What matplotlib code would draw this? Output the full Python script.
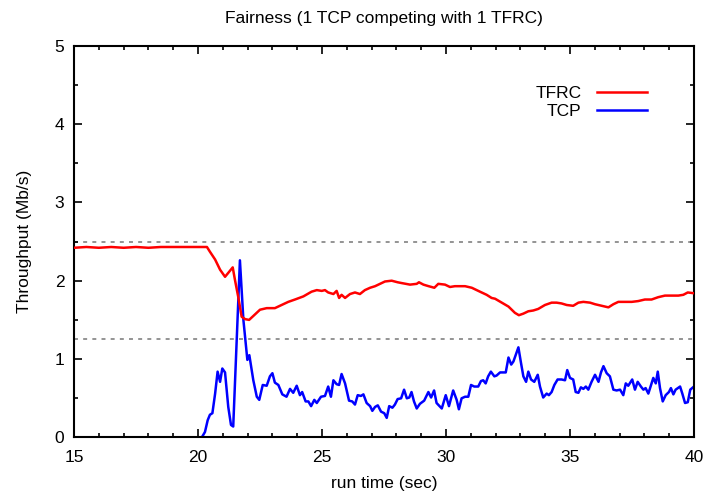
import matplotlib
matplotlib.use("Agg")
import matplotlib.pyplot as plt
from matplotlib.ticker import MultipleLocator

plt.rcParams['font.family'] = ['Liberation Sans', 'DejaVu Sans']

# TFRC throughput (Mb/s) over run time (sec)
tfrc_time = [15.0, 15.5, 16.0, 16.5, 17.0, 17.5, 18.0, 18.5, 19.0, 19.5, 20.0, 20.36,
             20.48, 20.69, 20.89, 21.09, 21.22, 21.40, 21.49, 21.63, 21.76, 21.90, 22.06,
             22.23, 22.50, 22.77, 23.10, 23.37, 23.64, 23.91, 24.25, 24.58, 24.79, 24.99,
             25.12, 25.25, 25.46, 25.59, 25.69, 25.79, 25.93, 26.13, 26.33, 26.53, 26.73,
             26.94, 27.14, 27.34, 27.54, 27.81, 28.05, 28.21, 28.55, 28.82, 28.91, 29.09,
             29.30, 29.53, 29.69, 29.96, 30.16, 30.36, 30.77, 31.04, 31.37, 31.64, 31.84,
             31.98, 32.25, 32.52, 32.78, 32.94, 33.12, 33.32, 33.52, 33.72, 33.99, 34.26,
             34.46, 34.66, 34.87, 35.13, 35.34, 35.54, 35.81, 36.01, 36.28, 36.55, 36.75,
             36.95, 37.22, 37.49, 37.75, 38.02, 38.29, 38.56, 38.83, 39.10, 39.37, 39.57,
             39.75, 40.00]
tfrc_rate = [2.42, 2.43, 2.42, 2.43, 2.42, 2.43, 2.42, 2.43, 2.43, 2.43, 2.43, 2.43,
             2.37, 2.27, 2.14, 2.05, 2.10, 2.17, 2.01, 1.78, 1.54, 1.51, 1.50,
             1.55, 1.63, 1.65, 1.65, 1.69, 1.73, 1.76, 1.80, 1.86, 1.88, 1.87,
             1.88, 1.85, 1.83, 1.87, 1.78, 1.82, 1.78, 1.83, 1.85, 1.83, 1.88,
             1.91, 1.93, 1.96, 1.99, 2.00, 1.98, 1.97, 1.95, 1.96, 1.98, 1.95,
             1.93, 1.91, 1.96, 1.95, 1.92, 1.93, 1.93, 1.91, 1.86, 1.82, 1.78,
             1.77, 1.72, 1.67, 1.59, 1.56, 1.58, 1.61, 1.62, 1.64, 1.69, 1.72,
             1.72, 1.71, 1.69, 1.68, 1.72, 1.73, 1.72, 1.70, 1.68, 1.66, 1.70,
             1.73, 1.73, 1.73, 1.74, 1.76, 1.76, 1.79, 1.81, 1.81, 1.81, 1.82,
             1.85, 1.84]

# TCP throughput (Mb/s) over run time (sec)
tcp_time = [15.0, 20.15, 20.28, 20.39, 20.48, 20.58, 20.69, 20.79, 20.89, 20.98, 21.09,
            21.22, 21.33, 21.42, 21.56, 21.69, 21.83, 21.99, 22.07, 22.23, 22.37, 22.47,
            22.61, 22.77, 22.90, 23.00, 23.10, 23.24, 23.40, 23.57, 23.71, 23.84, 23.98,
            24.11, 24.20, 24.34, 24.45, 24.56, 24.69, 24.79, 24.96, 25.12, 25.25, 25.36,
            25.46, 25.59, 25.69, 25.79, 25.93, 26.09, 26.22, 26.33, 26.44, 26.57, 26.67,
            26.80, 26.94, 27.03, 27.14, 27.25, 27.38, 27.51, 27.61, 27.71, 27.84, 27.94,
            28.05, 28.19, 28.31, 28.42, 28.52, 28.61, 28.71, 28.82, 28.95, 29.12, 29.29,
            29.40, 29.52, 29.62, 29.83, 29.99, 30.12, 30.29, 30.43, 30.52, 30.63, 30.77,
            30.90, 31.01, 31.14, 31.30, 31.41, 31.50, 31.60, 31.70, 31.81, 31.95, 32.04,
            32.18, 32.31, 32.41, 32.52, 32.63, 32.72, 32.81, 32.92, 33.02, 33.12, 33.23,
            33.32, 33.43, 33.56, 33.70, 33.79, 33.92, 34.06, 34.15, 34.26, 34.37, 34.50,
            34.66, 34.80, 34.89, 35.00, 35.13, 35.23, 35.34, 35.44, 35.54, 35.64, 35.74,
            35.87, 36.01, 36.15, 36.25, 36.35, 36.48, 36.61, 36.75, 36.88, 37.02, 37.15,
            37.25, 37.35, 37.51, 37.62, 37.73, 37.86, 37.96, 38.05, 38.16, 38.27, 38.36,
            38.46, 38.54, 38.63, 38.74, 38.86, 38.99, 39.07, 39.17, 39.26, 39.44, 39.53,
            39.64, 39.75, 39.85, 40.00]
tcp_rate = [0.0, 0.0, 0.07, 0.22, 0.29, 0.31, 0.56, 0.84, 0.71, 0.88, 0.83,
            0.39, 0.16, 0.14, 1.25, 2.26, 1.50, 0.99, 1.05, 0.73, 0.52, 0.48,
            0.67, 0.66, 0.78, 0.82, 0.70, 0.67, 0.55, 0.52, 0.62, 0.57, 0.66,
            0.54, 0.58, 0.46, 0.46, 0.40, 0.48, 0.44, 0.52, 0.53, 0.65, 0.52,
            0.73, 0.68, 0.67, 0.81, 0.69, 0.47, 0.46, 0.42, 0.54, 0.53, 0.55,
            0.44, 0.40, 0.34, 0.39, 0.41, 0.33, 0.31, 0.25, 0.40, 0.38, 0.42,
            0.49, 0.50, 0.61, 0.50, 0.51, 0.58, 0.46, 0.37, 0.43, 0.47, 0.58,
            0.51, 0.60, 0.44, 0.37, 0.54, 0.40, 0.60, 0.48, 0.36, 0.50, 0.52,
            0.52, 0.67, 0.65, 0.65, 0.72, 0.73, 0.69, 0.78, 0.84, 0.78, 0.79,
            0.83, 0.83, 0.83, 1.02, 0.93, 0.97, 1.05, 1.15, 0.96, 0.78, 0.71,
            0.84, 0.74, 0.71, 0.80, 0.65, 0.51, 0.56, 0.54, 0.58, 0.67, 0.74,
            0.74, 0.73, 0.86, 0.76, 0.74, 0.58, 0.57, 0.64, 0.62, 0.65, 0.61,
            0.71, 0.80, 0.71, 0.83, 0.91, 0.82, 0.78, 0.61, 0.60, 0.61, 0.54,
            0.69, 0.66, 0.74, 0.61, 0.71, 0.65, 0.61, 0.63, 0.56, 0.67, 0.76,
            0.69, 0.84, 0.63, 0.46, 0.54, 0.58, 0.63, 0.55, 0.61, 0.65, 0.56,
            0.44, 0.45, 0.61, 0.65]

# reference levels: full link share and half share
ref_levels = [2.5, 1.25]

fig = plt.figure(figsize=(7.09, 4.98), dpi=100)
ax = fig.add_axes([0.1044, 0.1215, 0.8744, 0.7871])

for lvl in ref_levels:
    ax.axhline(lvl, color='#777777', lw=1.1, dashes=(2.6, 3.4), zorder=1)

ax.plot(tfrc_time, tfrc_rate, color='#ff0000', lw=1.8, label='TFRC', zorder=3)
ax.plot(tcp_time, tcp_rate, color='#0000ff', lw=1.8, label='TCP', zorder=2)

ax.set_xlim(15, 40)
ax.set_ylim(0, 5)
ax.xaxis.set_major_locator(MultipleLocator(5))
ax.xaxis.set_minor_locator(MultipleLocator(1))
ax.yaxis.set_major_locator(MultipleLocator(1))
ax.yaxis.set_minor_locator(MultipleLocator(0.5))
ax.tick_params(which='both', direction='in', top=True, right=True, width=1.2,
               labelsize=12.5, pad=7, colors='black')
ax.tick_params(axis='x', which='both', pad=9)
ax.tick_params(which='major', length=5.5)
ax.tick_params(which='minor', length=2.8)
for sp in ax.spines.values():
    sp.set_linewidth(1.5)

ax.set_title('Fairness (1 TCP competing with 1 TFRC)', fontsize=12.5, pad=16)
ax.set_xlabel('run time (sec)', fontsize=12.5, labelpad=8)
ax.set_ylabel('Throughput (Mb/s)', fontsize=12.5, labelpad=16)

ax.legend(loc='upper right', bbox_to_anchor=(0.924, 0.896), frameon=False,
          markerfirst=False, fontsize=12.5, handlelength=2.9, handletextpad=0.85,
          labelspacing=0.16, borderaxespad=0, borderpad=0)

fig.savefig('out.png', dpi=100)
